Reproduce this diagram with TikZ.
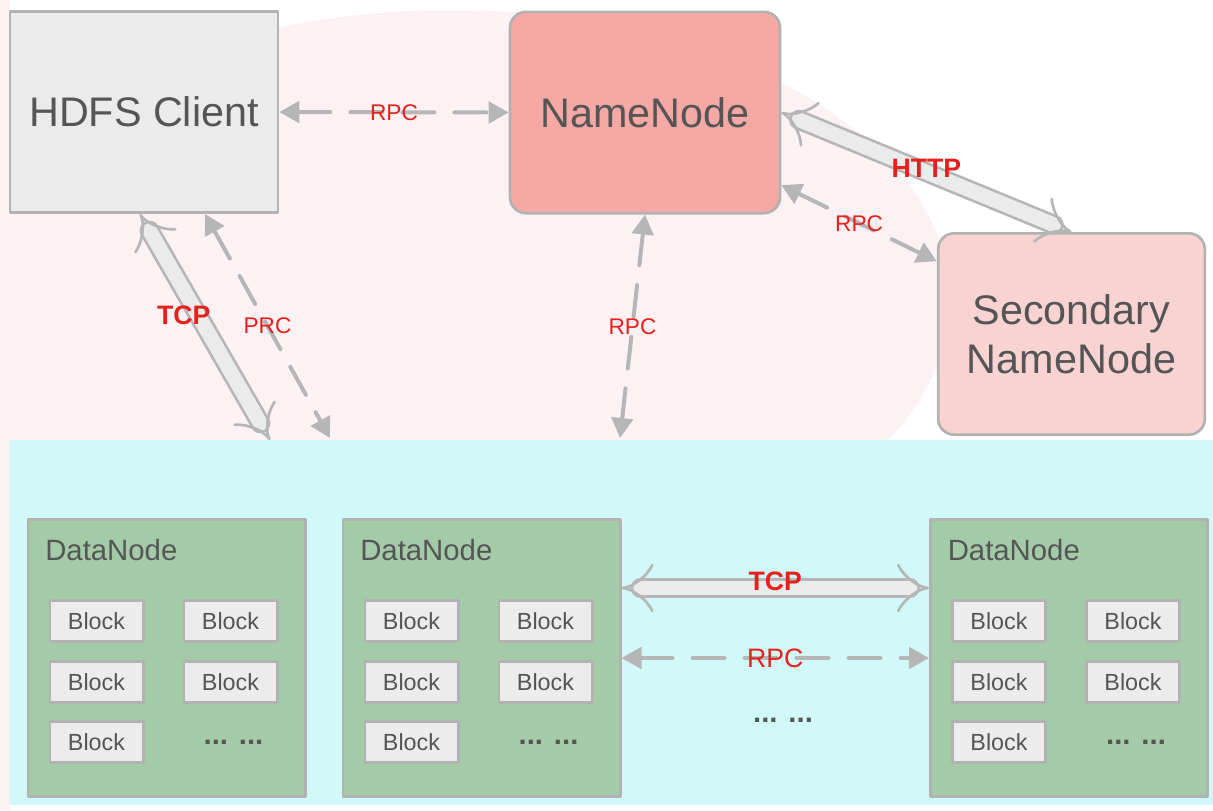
\documentclass[tikz,border=0pt]{standalone}
\usepackage{fontspec}
\setmainfont{Liberation Sans}
\usepackage{tikz}
\usetikzlibrary{arrows.meta}
\usetikzlibrary{positioning}
\definecolor{edgegray}{RGB}{178,178,178}
\definecolor{arrgray}{RGB}{182,182,182}
\definecolor{txtgray}{RGB}{85,85,85}
\definecolor{clientfill}{RGB}{235,235,235}
\definecolor{nnfill}{RGB}{246,168,165}
\definecolor{snnfill}{RGB}{249,211,210}
\definecolor{dnfill}{RGB}{164,203,168}
\definecolor{blockfill}{RGB}{236,236,236}
\definecolor{clusterfill}{RGB}{210,249,249}
\definecolor{lblred}{RGB}{232,32,28}
\definecolor{bgpink}{RGB}{253,242,243}

\begin{document}
\begin{tikzpicture}[x=0.75pt,y=-0.75pt,line cap=round,line join=round,
  bigbox/.style={draw=edgegray,line width=2pt,text=txtgray,font=\fontsize{31}{37}\selectfont,
    minimum width=201pt,minimum height=151pt,align=center,inner sep=0pt},
  dnbox/.style={draw=edgegray,line width=2pt,fill=dnfill,minimum width=208pt,minimum height=208pt},
  dnlabel/.style={text=txtgray,font=\fontsize{22}{26}\selectfont,inner sep=0pt},
  blockbox/.style={draw=edgegray,line width=2pt,fill=blockfill,text=txtgray,
    font=\fontsize{17.5}{21}\selectfont,minimum width=70pt,minimum height=31pt,inner sep=0pt},
  dotsbox/.style={text=txtgray,font=\bfseries\fontsize{22}{26}\selectfont,inner sep=0pt},
  rpcline/.style={draw=arrgray,line width=3pt,dash pattern=on 24pt off 15pt,
    {Triangle[length=15pt,width=16pt]}-{Triangle[length=15pt,width=16pt]}},
  fatline/.style={draw=arrgray,line width=2pt,double=clientfill,double distance=11pt,
    {Implies[scale=1.3]}-{Implies[scale=1.3]}},
  lbl/.style={text=lblred,font=\fontsize{17}{20}\selectfont,inner sep=0pt},
  boldlbl/.style={text=lblred,font=\bfseries\fontsize{20}{24}\selectfont,inner sep=0pt}]

\useasboundingbox (0,0) rectangle (1213,810);
\fill[white] (0,0) rectangle (1213,810);
% faint background picture
\fill[bgpink] (450,300) ellipse [x radius=500, y radius=290];
\fill[bgpink] (0,0) rectangle (10,810);

% cluster of datanodes
\node[fill=clusterfill,minimum width=902pt,minimum height=274pt,inner sep=0pt] (cluster) at (611.5,622.5) {};

% top row
\node[bigbox,fill=clientfill] (client) at (144,112) {HDFS Client};
\node[bigbox,fill=nnfill,rounded corners=12pt,minimum width=202.5pt] (namenode) at (645,112.5) {NameNode};
\node[bigbox,fill=snnfill,rounded corners=12pt,minimum width=200pt] (secondary) at (1071.5,334) {Secondary\\NameNode};

% datanodes
\node[dnbox] (dn1) at (166.5,658) {};
\node[dnbox] (dn2) at (481.5,658) {};
\node[dnbox] (dn3) at (1069,658) {};

\foreach \dn in {dn1,dn2,dn3} {
  \node[dnlabel,anchor=west] (\dn-lbl) at ([shift={(-121.5,-108)}]\dn.center) {DataNode};
  \node[blockbox] (\dn-b1) at ([shift={(-70,-37)}]\dn.center) {Block};
  \node[blockbox] (\dn-b2) at ([shift={(64,-37)}]\dn.center) {Block};
  \node[blockbox] (\dn-b3) at ([shift={(-70,24)}]\dn.center) {Block};
  \node[blockbox] (\dn-b4) at ([shift={(64,24)}]\dn.center) {Block};
  \node[blockbox] (\dn-b5) at ([shift={(-70,84)}]\dn.center) {Block};
  \node[dotsbox] (\dn-more) at ([shift={(67,84)}]\dn.center) {... ...};
}
\node[dotsbox] (moredn) at (783,720) {... ...};

% free ends on the cluster edge
\coordinate (tcpend) at (270,440);
\coordinate (prcend) at (330,438);
\coordinate (rpcdn) at (620,438);

% connectors
\draw[rpcline] (client.east) -- node[lbl] {RPC} (namenode.west);
\draw[fatline] (namenode.east) -- node[boldlbl,yshift=3pt] {HTTP} (secondary.north);
\draw[rpcline] ([yshift=22pt]namenode.south east) -- node[lbl] {RPC} ([yshift=-22pt]secondary.north west);
\draw[rpcline] (namenode.south) -- node[lbl] {RPC} (rpcdn);
\draw[fatline] ([xshift=-3pt]client.south) -- node[boldlbl,xshift=-16pt,yshift=9pt] {TCP} (tcpend);
\draw[rpcline] ([xshift=45.75pt]client.south) -- node[lbl] {PRC} (prcend);
\draw[fatline] ([yshift=52.5pt]dn2.east) -- node[boldlbl,yshift=5pt] {TCP} ([yshift=52.5pt]dn3.west);
\draw[rpcline] (dn2.east) -- node[lbl,font=\fontsize{20}{24}\selectfont] {RPC} (dn3.west);
\end{tikzpicture}
\end{document}
